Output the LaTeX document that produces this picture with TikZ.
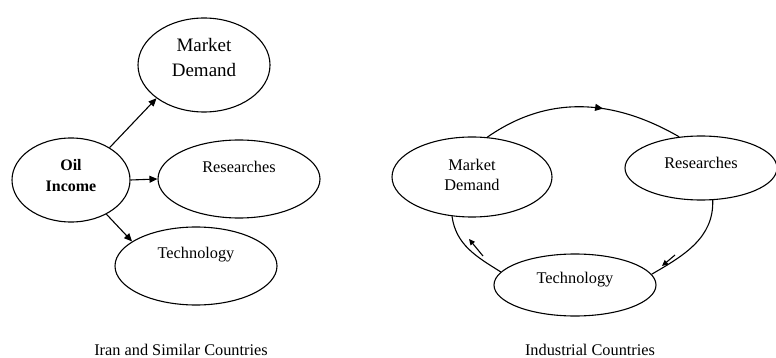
\documentclass[tikz,border=0pt]{standalone}
\usepackage{fontspec}
\setmainfont{Liberation Serif}
\usetikzlibrary{shapes.geometric,arrows.meta,decorations.markings}

\tikzset{
  oval/.style={ellipse, draw, line width=1.1pt, inner sep=0pt, text height=10.8pt},
  flow/.style={line width=1.1pt, -{Triangle[length=8pt,width=7pt]}},
  cycle/.style={line width=1.1pt},
  tick/.style={line width=1.1pt, -{Triangle[length=6pt,width=5.5pt]}},
  caption/.style={inner sep=0pt},
}

\begin{document}
\begin{tikzpicture}[x=1pt, y=-1pt, font=\fontsize{16.3}{20}\selectfont]
  %%%%% START %%%%%
  \useasboundingbox (0,0) rectangle (776,358);

  % oil-driven countries
  \node[oval, minimum width=132pt, minimum height=94pt, align=center,
        font=\fontsize{19}{25}\selectfont, text height=22.6pt, text depth=0pt]
        (mdL) at (204,65) {Market\\Demand};
  \node[oval, minimum width=118pt, minimum height=84pt, align=center,
        font=\fontsize{16}{21}\selectfont\bfseries, text height=22.8pt, text depth=0pt]
        (oil) at (71,180) {Oil\\Income};
  \node[oval, minimum width=162pt, minimum height=78pt, text depth=24pt]
        (resL) at (239,179) {Researches};
  \node[oval, minimum width=162pt, minimum height=78pt, text depth=26pt]
        (techL) at (196,266) {Technology};

  \draw[flow] (oil.40) -- (mdL.215);
  \draw[flow] (oil.east) -- (resL.west);
  \draw[flow] (oil.-44) -- (techL.159);

  \node[caption] (capL) at (181,350) {Iran and Similar Countries};

  % industrial countries
  \node[oval, minimum width=160pt, minimum height=80pt, align=center,
        text height=26.8pt, text depth=0pt] (mdR) at (472,177) {Market\\Demand};
  \node[oval, minimum width=152pt, minimum height=64pt, text depth=10pt]
        (resR) at (701,168) {Researches};
  \node[oval, minimum width=162pt, minimum height=62pt, text depth=14pt]
        (techR) at (575,285) {Technology};

  \draw[cycle, postaction={decorate}, decoration={markings,
        mark=at position 0.6 with {\arrow{Triangle[length=8pt,width=7pt]}}}]
        (mdR.69) to[out=35, in=150] (resR.125);
  \draw[cycle] (resR.-70) to[out=-88, in=30] (techR.8);
  \draw[cycle] (mdR.243) to[out=-82, in=148] (techR.170);

  \coordinate (tr1) at (675,255);
  \coordinate (tr2) at (662,266);
  \coordinate (tl1) at (483,256);
  \coordinate (tl2) at (469,239);
  \draw[tick] (tr1) -- (tr2);
  \draw[tick] (tl1) -- (tl2);

  \node[caption] (capR) at (590,350) {Industrial Countries};
  %%%%% END %%%%%
\end{tikzpicture}
\end{document}
